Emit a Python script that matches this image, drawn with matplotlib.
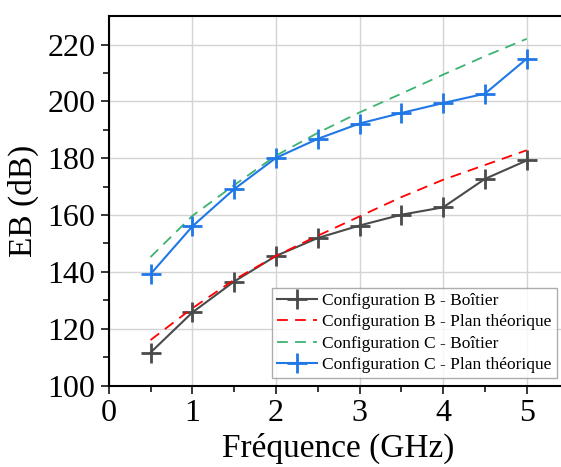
import numpy as np
import matplotlib
matplotlib.use('Agg')
import matplotlib.pyplot as plt

# frequences (GHz)
freq = [0.5, 1.0, 1.5, 2.0, 2.5, 3.0, 3.5, 4.0, 4.5, 5.0]
# EB en dB
b_boitier = [111.6, 125.7, 136.6, 145.6, 151.9, 156.3, 160.1, 162.7, 172.7, 179.2]
b_plan = [116.0, 127.2, 137.2, 145.6, 152.7, 159.5, 166.3, 172.4, 177.6, 182.8]
c_boitier = [145.2, 159.7, 170.5, 180.9, 188.9, 196.1, 202.7, 209.4, 215.9, 222.0]
c_plan = [139.2, 156.0, 169.1, 180.1, 186.8, 192.2, 195.9, 199.4, 202.7, 215.0]

plt.rcParams['font.family'] = ['Liberation Serif', 'DejaVu Serif']

fig = plt.figure(figsize=(5.61, 4.67), dpi=100)
# l'axe depasse a droite de l'image (coupe comme dans l'original)
ax = fig.add_axes([0.1938, 0.1745, 0.8196, 0.791])

ax.plot(freq, b_boitier, '-', color='#4a4a4a', lw=1.5, marker='+', ms=15, mew=2,
        label='Configuration B - Boîtier')
ax.plot(freq, b_plan, '--', color='#ff0000', lw=1.3, dashes=(6, 4),
        label='Configuration B - Plan théorique')
ax.plot(freq, c_boitier, '--', color='#3cb371', lw=1.3, dashes=(6, 4),
        label='Configuration C - Boîtier')
ax.plot(freq, c_plan, '-', color='#1f78e6', lw=1.5, marker='+', ms=15, mew=2,
        label='Configuration C - Plan théorique')

ax.set_xlim(0, 5.5)
ax.set_ylim(100, 230)
ax.set_xticks(np.arange(0, 6, 1))
ax.set_xticks(np.arange(0.5, 5.5, 1), minor=True)
ax.set_yticks(np.arange(100, 230, 20))
ax.set_yticks(np.arange(110, 230, 20), minor=True)
ax.grid(True, which='major', color='#d4d4d4', lw=1)
ax.set_axisbelow(True)
ax.tick_params(which='major', direction='out', length=6, width=1.1, labelsize=23)
ax.tick_params(which='minor', direction='out', length=4, width=1.1)
for s in ax.spines.values():
    s.set_linewidth(1.5)

ax.set_xlabel('Fréquence (GHz)', fontsize=24, labelpad=4)
ax.set_ylabel('EB (dB)', fontsize=24, labelpad=6)

fig.legend(loc='lower right', bbox_to_anchor=(0.993, 0.19), bbox_transform=fig.transFigure,
           fontsize=12.5, frameon=True, fancybox=False, edgecolor='#999999',
           handlelength=2.3, handletextpad=0.3, borderpad=0.3, labelspacing=0.3,
           borderaxespad=0)

fig.savefig('out.png', dpi=100)
